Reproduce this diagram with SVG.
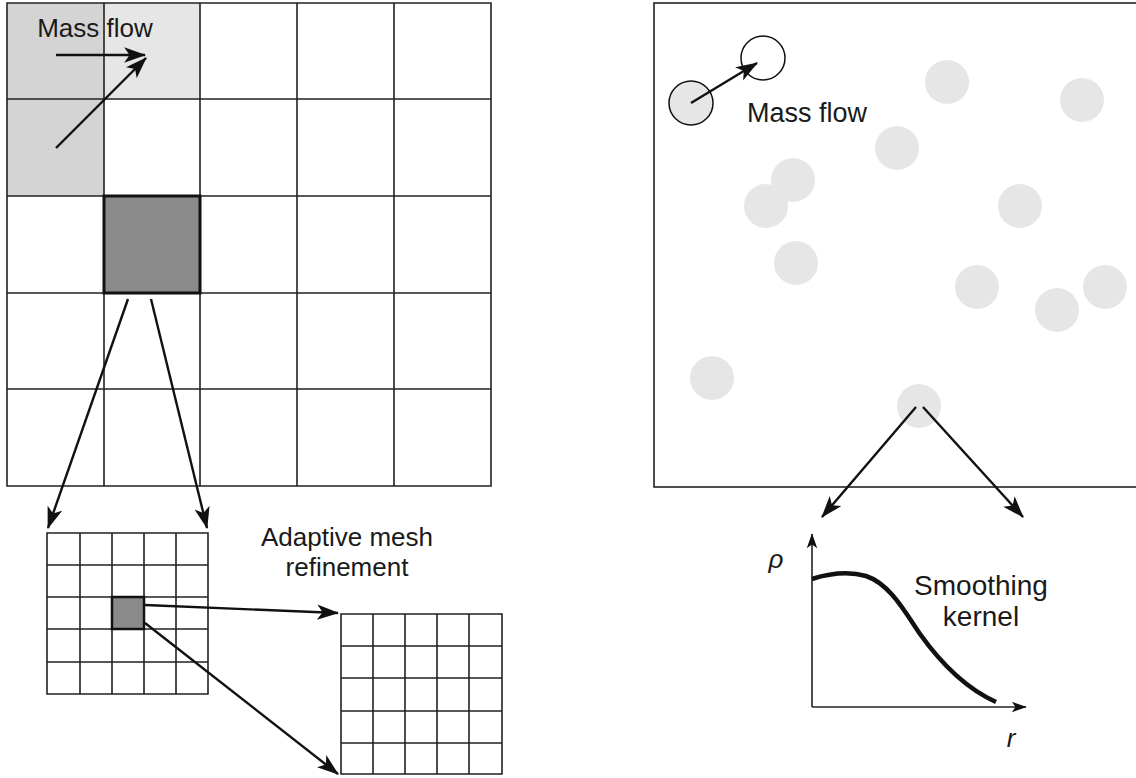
<svg xmlns="http://www.w3.org/2000/svg" width="1136" height="778" viewBox="0 0 1136 778">
<style>
.grid{fill:none;stroke:#222;stroke-width:1.6}
.lbl{font-family:"Liberation Sans",Arial,sans-serif;fill:#1a1a1a}
.it{font-family:"Liberation Sans",Arial,sans-serif;font-style:italic;font-size:26px;fill:#1a1a1a}
.conn{fill:none;stroke:#111;stroke-width:2.4}
.p{fill:#e6e6e6;stroke:none}
</style>
<defs>
<marker id="ah" viewBox="0 0 20 14" refX="19" refY="7" markerWidth="22" markerHeight="16" markerUnits="userSpaceOnUse" orient="auto">
<path d="M0,0 L20,7 L0,14 L5,7 z" fill="#111"/>
</marker>
<marker id="ahs" viewBox="0 0 20 14" refX="19" refY="7" markerWidth="15" markerHeight="11" markerUnits="userSpaceOnUse" orient="auto">
<path d="M0,0 L20,7 L0,14 L5,7 z" fill="#111"/>
</marker>
</defs>
<rect width="1136" height="778" fill="#fff"/>

<g id="main-grid">
<rect x="7" y="3" width="97" height="193" fill="#d4d4d4"/>
<rect x="104" y="3" width="96" height="96" fill="#e6e6e6"/>
<path class="grid" d="M7,3H491V486H7Z M104,3V486 M200,3V486 M297,3V486 M394,3V486 M7,99H491 M7,196H491 M7,293H491 M7,389H491"/>
<rect x="104" y="196" width="96" height="97" fill="#8a8a8a" stroke="#111" stroke-width="3"/>
<text class="lbl" x="95" y="37" font-size="26" text-anchor="middle">Mass flow</text>
</g>

<g id="small-grid">
<path class="grid" d="M47,533H208V694H47Z M80,533V694 M112,533V694 M144,533V694 M176,533V694 M47,565H208 M47,597H208 M47,629H208 M47,662H208"/>
<rect x="112" y="597" width="32" height="32" fill="#8a8a8a" stroke="#111" stroke-width="2.5"/>
</g>

<g id="smallest-grid">
<path class="grid" d="M341,614H502V774H341Z M373,614V774 M405,614V774 M437,614V774 M469,614V774 M341,646H502 M341,678H502 M341,711H502 M341,743H502"/>
</g>

<g id="amr-label">
<text class="lbl" x="347" y="546" font-size="26" text-anchor="middle">Adaptive mesh</text>
<text class="lbl" x="347" y="576" font-size="26" text-anchor="middle">refinement</text>
</g>

<g id="particle-box">
<rect x="654" y="3" width="490" height="484" fill="none" stroke="#222" stroke-width="1.6"/>
<circle class="p" cx="947" cy="82" r="22"/>
<circle class="p" cx="1082" cy="100" r="22"/>
<circle class="p" cx="897" cy="148" r="22"/>
<circle class="p" cx="793" cy="180" r="22"/>
<circle class="p" cx="766" cy="206" r="22"/>
<circle class="p" cx="1020" cy="206" r="22"/>
<circle class="p" cx="796" cy="263" r="22"/>
<circle class="p" cx="977" cy="287" r="22"/>
<circle class="p" cx="1105" cy="287" r="22"/>
<circle class="p" cx="1057" cy="310" r="22"/>
<circle class="p" cx="712" cy="378" r="22"/>
<circle class="p" cx="919" cy="406" r="22"/>
<circle cx="691" cy="103" r="22" fill="#e6e6e6" stroke="#111" stroke-width="1.5"/>
<circle cx="763" cy="58" r="22" fill="#fff" stroke="#111" stroke-width="1.5"/>
<text class="lbl" x="807" y="122" font-size="27" text-anchor="middle">Mass flow</text>
</g>

<g id="kernel-plot">
<path d="M812,707V534" fill="none" stroke="#222" stroke-width="1.6" marker-end="url(#ahs)"/>
<path d="M812,707H1026" fill="none" stroke="#222" stroke-width="1.6" marker-end="url(#ahs)"/>
<path d="M812,579 C828,574 848,571 866,576 C890,584 905,612 920,634 C940,662 965,688 996,702" fill="none" stroke="#111" stroke-width="4.5"/>
<text class="it" x="776" y="568" text-anchor="middle">ρ</text>
<text class="it" x="1011" y="747" text-anchor="middle">r</text>
<text class="lbl" x="981" y="595" font-size="28" text-anchor="middle">Smoothing</text>
<text class="lbl" x="981" y="626" font-size="28" text-anchor="middle">kernel</text>
</g>

<g id="connectors">
<path class="conn" d="M56,55H145" marker-end="url(#ah)"/>
<path class="conn" d="M56,148L146,58" marker-end="url(#ah)"/>
<path class="conn" d="M128,299L48,528" marker-end="url(#ah)"/>
<path class="conn" d="M151,299L207,528" marker-end="url(#ah)"/>
<path class="conn" d="M145,605L338,613" marker-end="url(#ah)"/>
<path class="conn" d="M145,623L338,774" marker-end="url(#ah)"/>
<path class="conn" d="M691,103L757,63" marker-end="url(#ah)"/>
<path class="conn" d="M916,407L822,517" marker-end="url(#ah)"/>
<path class="conn" d="M923,407L1023,517" marker-end="url(#ah)"/>
</g>
</svg>
